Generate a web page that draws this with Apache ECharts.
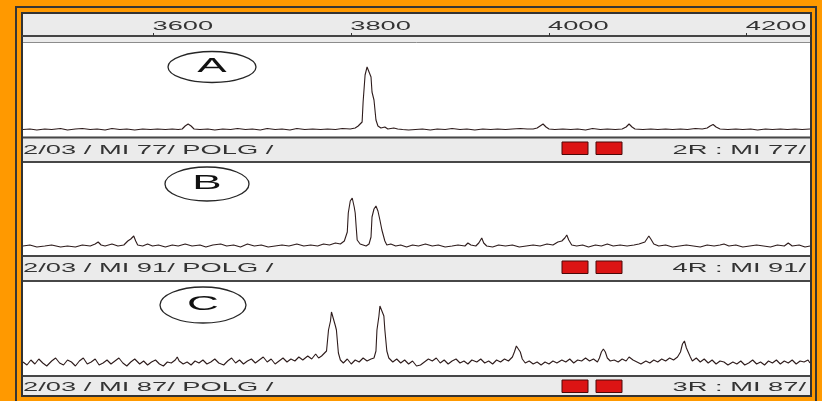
<!DOCTYPE html>
<html>
<head>
<meta charset="utf-8">
<script src="https://cdn.jsdelivr.net/npm/echarts@6/dist/echarts.min.js"></script>
<style>
  html, body { margin: 0; padding: 0; background: #ff9900; }
  #chart { width: 822px; height: 401px; }
</style>
</head>
<body>
<div id="chart"></div>
<script>
// Fragment size window (bp) and the size ticks printed on the header ruler
const sizeMin = 3468;
const sizeMax = 4264;
const sizeTicks = [3600, 3800, 4000, 4200];

// Lane captions
const panelTags = ['A', 'B', 'C'];
const runLabels = ['2/03 / MI 77/ POLG /', '2/03 / MI 91/ POLG /', '2/03 / MI 87/ POLG /'];
const laneLabels = ['2R : MI 77/', '4R : MI 91/', '3R : MI 87/'];

// Signal traces: [size (bp), fluorescence]
const traceA = [
  [3468,75],[3475,80],[3482,70],[3490,80],[3497,75],[3506,85],[3513,70],[3521,80],[3528,85],[3536,75],
  [3543,80],[3551,70],[3558,85],[3566,75],[3573,80],[3581,70],[3589,80],[3597,75],[3604,80],[3612,75],
  [3619,80],[3625,75],[3629,80],[3632,110],[3635,130],[3638,110],[3641,80],[3647,75],[3655,80],[3662,70],
  [3670,80],[3678,75],[3685,85],[3693,75],[3700,80],[3708,70],[3715,85],[3723,75],[3730,80],[3738,70],
  [3745,85],[3753,75],[3761,80],[3769,75],[3776,80],[3784,75],[3791,85],[3799,80],[3804,90],[3807,110],
  [3809,130],[3811,150],[3812,350],[3814,620],[3816,700],[3818,690],[3820,600],[3821,450],[3823,370],[3825,170],
  [3827,110],[3830,90],[3834,100],[3837,80],[3843,90],[3847,80],[3852,75],[3858,70],[3865,75],[3872,80],
  [3880,70],[3887,80],[3895,75],[3902,85],[3910,75],[3917,80],[3925,70],[3933,80],[3941,75],[3948,80],
  [3956,75],[3963,80],[3971,85],[3978,80],[3984,80],[3988,90],[3991,110],[3994,130],[3997,100],[4000,80],
  [4006,75],[4014,80],[4022,75],[4029,80],[4037,70],[4044,85],[4052,75],[4059,80],[4067,75],[4074,80],
  [4078,100],[4081,130],[4084,100],[4087,80],[4095,75],[4103,80],[4110,75],[4118,80],[4125,75],[4133,80],
  [4140,75],[4148,85],[4155,80],[4160,90],[4163,110],[4166,125],[4169,100],[4173,80],[4181,75],[4189,80],
  [4196,75],[4204,80],[4211,70],[4219,80],[4226,75],[4234,80],[4241,75],[4249,80],[4256,75],[4264,80]
];

const traceB = [
  [3468,110],[3475,120],[3482,100],[3490,110],[3497,120],[3506,100],[3513,110],[3521,100],[3528,120],[3536,110],
  [3541,130],[3544,150],[3547,120],[3551,110],[3558,130],[3564,110],[3570,120],[3574,160],[3577,180],[3580,210],
  [3582,160],[3584,120],[3589,110],[3594,130],[3599,110],[3605,120],[3612,100],[3619,120],[3625,110],[3632,130],
  [3639,110],[3647,120],[3653,100],[3660,120],[3668,130],[3674,110],[3681,120],[3688,100],[3695,130],[3702,110],
  [3709,120],[3716,100],[3723,110],[3730,120],[3737,110],[3745,130],[3752,110],[3759,120],[3766,110],[3772,130],
  [3778,120],[3784,140],[3789,130],[3793,160],[3796,250],[3797,440],[3799,560],[3801,590],[3803,500],[3804,440],
  [3805,300],[3806,170],[3809,130],[3812,120],[3815,110],[3818,130],[3820,200],[3821,400],[3823,480],[3825,510],
  [3827,460],[3829,370],[3831,270],[3834,160],[3836,120],[3840,130],[3845,110],[3850,120],[3856,100],[3862,120],
  [3868,110],[3875,130],[3882,110],[3888,120],[3895,100],[3902,110],[3908,120],[3915,110],[3918,140],[3921,120],
  [3926,110],[3929,140],[3932,190],[3934,140],[3937,110],[3943,100],[3949,120],[3956,110],[3963,120],[3970,100],
  [3977,110],[3984,120],[3991,110],[3998,130],[4004,120],[4009,150],[4013,160],[4016,190],[4018,220],[4020,170],
  [4023,120],[4028,110],[4034,120],[4040,100],[4047,120],[4053,110],[4059,130],[4065,110],[4072,120],[4079,110],
  [4086,120],[4091,130],[4097,150],[4099,180],[4101,210],[4103,180],[4106,130],[4111,110],[4118,120],[4125,100],
  [4132,110],[4139,120],[4146,110],[4153,100],[4160,120],[4167,110],[4173,120],[4177,130],[4182,110],[4189,120],
  [4196,100],[4203,110],[4210,120],[4217,110],[4224,100],[4231,120],[4238,110],[4242,140],[4246,110],[4253,120],
  [4259,100],[4264,110]
];

const traceC = [
  [3468,140],[3472,110],[3476,160],[3480,120],[3484,170],[3488,130],[3492,100],[3497,150],[3501,180],[3505,130],
  [3509,110],[3513,160],[3517,140],[3521,100],[3525,150],[3529,180],[3533,120],[3537,140],[3541,170],[3545,110],
  [3549,130],[3553,160],[3557,120],[3561,150],[3565,180],[3569,130],[3573,100],[3577,140],[3581,170],[3586,120],
  [3590,150],[3594,110],[3598,140],[3602,160],[3606,120],[3610,100],[3614,140],[3618,130],[3622,160],[3624,190],
  [3626,150],[3630,120],[3634,140],[3638,110],[3642,150],[3646,130],[3650,160],[3654,120],[3658,140],[3662,170],
  [3666,130],[3671,110],[3675,150],[3679,180],[3683,130],[3687,160],[3691,120],[3695,150],[3699,170],[3703,130],
  [3707,160],[3711,190],[3715,140],[3719,170],[3723,120],[3727,150],[3731,180],[3735,140],[3739,170],[3743,150],
  [3747,190],[3751,160],[3756,200],[3760,170],[3764,220],[3767,180],[3770,200],[3772,210],[3775,250],[3777,460],
  [3779,550],[3780,640],[3782,640],[3784,500],[3785,460],[3787,230],[3789,160],[3792,130],[3796,170],[3800,120],
  [3804,160],[3808,140],[3812,180],[3816,150],[3820,170],[3823,180],[3825,250],[3826,460],[3828,600],[3829,700],
  [3831,700],[3833,600],[3834,460],[3836,250],[3838,180],[3842,140],[3846,170],[3850,130],[3854,160],[3858,120],
  [3862,150],[3866,100],[3870,110],[3874,140],[3878,170],[3882,150],[3886,180],[3890,130],[3894,160],[3898,120],
  [3902,150],[3906,170],[3910,130],[3914,150],[3918,120],[3922,160],[3927,140],[3931,170],[3935,130],[3939,150],
  [3943,120],[3947,160],[3951,140],[3955,170],[3959,150],[3963,190],[3965,240],[3967,300],[3969,300],[3971,240],
  [3973,170],[3976,130],[3980,150],[3984,120],[3988,140],[3992,110],[3996,140],[4000,120],[4004,150],[4008,130],
  [4013,160],[4017,140],[4021,170],[4025,130],[4029,160],[4033,150],[4037,180],[4041,150],[4045,170],[4049,140],
  [4051,180],[4053,240],[4055,270],[4057,240],[4059,180],[4062,150],[4066,160],[4070,140],[4074,170],[4078,150],
  [4081,190],[4083,200],[4085,160],[4089,140],[4093,120],[4098,150],[4102,130],[4106,160],[4110,140],[4114,170],
  [4118,150],[4122,180],[4126,160],[4130,190],[4133,240],[4135,320],[4137,350],[4139,280],[4141,270],[4143,190],
  [4145,150],[4149,180],[4153,140],[4157,170],[4161,130],[4165,160],[4169,120],[4173,150],[4177,140],[4181,110],
  [4186,140],[4190,120],[4194,150],[4198,110],[4202,130],[4206,160],[4210,120],[4214,140],[4218,110],[4222,150],
  [4226,130],[4230,160],[4234,120],[4238,150],[4242,130],[4246,160],[4250,120],[4254,150],[4258,140],[4262,160],
  [4264,130]
];

const traces = [traceA, traceB, traceC];
const signalMax = 940;

// Panel geometry (pixels)
const FRAME_L = 23, FRAME_R = 810;
const panelTop = [43, 163, 282];
const panelHeight = 94;
const panelWhite = [[43, 136.5], [163, 255], [282, 375]];
const separators = [137.5, 162, 256, 281, 376];
const stripMid = [150, 268, 387];
const swatchTop = [142, 261, 380];
const tagEllipse = [[212, 67, 44, 15.5], [207, 184, 42, 17], [203, 305, 43, 18]];
const TEXT_FONT = '13px "Liberation Sans", Arial, sans-serif';
const STRETCH = 2.1;

const chart = echarts.init(document.getElementById('chart'), null, { renderer: 'canvas' });

const grids = panelTop.map(t => ({ left: FRAME_L, right: 822 - FRAME_R, top: t, height: panelHeight }));

const xAxes = panelTop.map((t, i) => i === 0 ? {
  type: 'value', gridIndex: 0, min: sizeMin, max: sizeMax, position: 'top', offset: 7,
  axisLine: { show: true, onZero: false, lineStyle: { color: '#444', width: 2 } },
  axisTick: { show: true, length: 3, customValues: sizeTicks, lineStyle: { color: '#333', width: 1 } },
  axisLabel: { show: false, customValues: sizeTicks },
  splitLine: { show: false }
} : {
  type: 'value', gridIndex: i, min: sizeMin, max: sizeMax, show: false,
  axisLine: { onZero: false }, splitLine: { show: false }
});

const yAxes = panelTop.map((t, i) => ({
  type: 'value', gridIndex: i, min: 0, max: signalMax, show: false, splitLine: { show: false }
}));

const series = traces.map((d, i) => ({
  type: 'line', xAxisIndex: i, yAxisIndex: i, data: d, showSymbol: false, silent: true,
  lineStyle: { color: '#2e1c1c', width: 1.1 }, z: 3
}));

chart.setOption({
  animation: false,
  backgroundColor: '#ff9900',
  grid: grids,
  xAxis: xAxes,
  yAxis: yAxes,
  series: series
});

// Frame, caption strips, lane tags and ruler labels
function buildGraphics() {
  const g = [];
  const push = el => { el.z = -1; el.z2 = g.length; g.push(el); };
  push({ type: 'rect', shape: { x: 16, y: 7, width: 800, height: 400 }, style: { fill: 'none', stroke: '#363636', lineWidth: 2 } });
  push({ type: 'rect', shape: { x: 22, y: 13, width: 789, height: 383 }, style: { fill: '#ebebeb', stroke: '#333', lineWidth: 2 } });
  push({ type: 'line', shape: { x1: FRAME_L, y1: 42.5, x2: FRAME_R, y2: 42.5 }, style: { stroke: '#8c8c8c', lineWidth: 1 } });
  panelWhite.forEach(([t, b]) => push({ type: 'rect', shape: { x: FRAME_L, y: t, width: FRAME_R - FRAME_L, height: b - t }, style: { fill: '#fff' } }));
  separators.forEach(y => push({ type: 'line', shape: { x1: FRAME_L, y1: y, x2: FRAME_R, y2: y }, style: { stroke: '#474747', lineWidth: 2 } }));

  sizeTicks.forEach(v => {
    const px = chart.convertToPixel({ xAxisIndex: 0 }, v);
    push({ type: 'text', x: px - 1, y: 26, scaleX: STRETCH,
      style: { text: String(v), font: TEXT_FONT, fill: '#333', align: 'left', verticalAlign: 'middle' } });
  });

  panelTags.forEach((tag, i) => {
    const [cx, cy, rx, ry] = tagEllipse[i];
    push({ type: 'ellipse', shape: { cx, cy, rx, ry }, style: { fill: 'none', stroke: '#262626', lineWidth: 1.3 } });
    push({ type: 'text', x: cx, y: cy - 1, scaleX: STRETCH,
      style: { text: tag, font: '21px "Liberation Sans", Arial, sans-serif', fill: '#111', align: 'center', verticalAlign: 'middle' } });

    push({ type: 'text', x: 23, y: stripMid[i], scaleX: STRETCH,
      style: { text: runLabels[i], font: TEXT_FONT, fill: '#333', align: 'left', verticalAlign: 'middle' } });
    push({ type: 'text', x: 806, y: stripMid[i], scaleX: STRETCH,
      style: { text: laneLabels[i], font: TEXT_FONT, fill: '#333', align: 'right', verticalAlign: 'middle' } });
    [562, 596].forEach(sx => push({ type: 'rect', shape: { x: sx, y: swatchTop[i], width: 26, height: 12.5 },
      style: { fill: '#dc1414', stroke: '#4a0808', lineWidth: 1 } }));
  });
  return g;
}

chart.setOption({ graphic: { z: -1, elements: buildGraphics() } });
</script>
</body>
</html>
